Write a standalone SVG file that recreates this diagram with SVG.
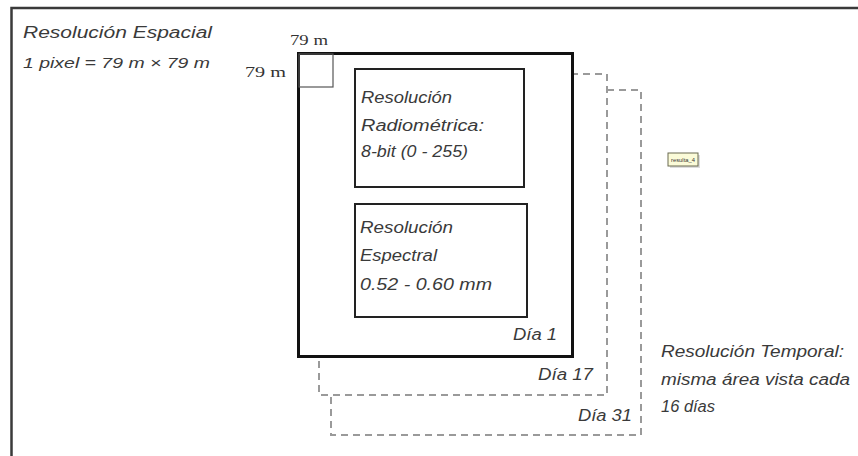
<svg xmlns="http://www.w3.org/2000/svg" width="858" height="456" viewBox="0 0 858 456">
<style>
.t{font-family:"Liberation Sans",Arial,sans-serif;font-style:italic;fill:#3a3a3a;font-size:16px}
.s{font-family:"Liberation Serif","Times New Roman",serif;fill:#333;font-size:14px}
.dash{fill:#fff;stroke:#9a9a9a;stroke-width:2;stroke-dasharray:7 5}
.inner{fill:#fff;stroke:#222;stroke-width:2}
</style>
<rect width="858" height="456" fill="#fff"/>
<rect id="frame" x="11.5" y="8" width="870" height="470" fill="none" stroke="#3a3a3a" stroke-width="2.5"/>
<g id="spatial">
<text class="t" x="23" y="38" textLength="189" lengthAdjust="spacingAndGlyphs">Resolución Espacial</text>
<text class="t" x="23" y="68" font-size="15" style="font-size:15px" textLength="187" lengthAdjust="spacingAndGlyphs">1 pixel = 79 m × 79 m</text>
</g>
<g id="dia31">
<rect class="dash" x="331" y="90" width="310" height="345"/>
<text class="t" x="578" y="421" textLength="54" lengthAdjust="spacingAndGlyphs">Día 31</text>
</g>
<g id="dia17">
<rect class="dash" x="319" y="74" width="288" height="321"/>
<text class="t" x="538" y="380" textLength="55" lengthAdjust="spacingAndGlyphs">Día 17</text>
</g>
<g id="dia1">
<rect x="298.5" y="53.5" width="274" height="303" fill="#fff" stroke="#111" stroke-width="3"/>
<text class="t" x="513" y="340" textLength="44" lengthAdjust="spacingAndGlyphs">Día 1</text>
</g>
<g id="pixel">
<rect x="299" y="54" width="34" height="33" fill="none" stroke="#555" stroke-width="1.2"/>
<text class="s" x="290" y="45" textLength="38" lengthAdjust="spacingAndGlyphs">79 m</text>
<text class="s" x="245" y="77" textLength="41" lengthAdjust="spacingAndGlyphs">79 m</text>
</g>
<g id="radiometrica">
<rect class="inner" x="355" y="69" width="169" height="118"/>
<text class="t" x="361" y="103" textLength="91" lengthAdjust="spacingAndGlyphs">Resolución</text>
<text class="t" x="361" y="131" textLength="123" lengthAdjust="spacingAndGlyphs">Radiométrica:</text>
<text class="t" x="361" y="157" textLength="107" lengthAdjust="spacingAndGlyphs">8-bit (0 - 255)</text>
</g>
<g id="espectral">
<rect class="inner" x="355" y="204" width="172" height="113"/>
<text class="t" x="360" y="233" textLength="93" lengthAdjust="spacingAndGlyphs">Resolución</text>
<text class="t" x="360" y="261" textLength="77" lengthAdjust="spacingAndGlyphs">Espectral</text>
<text class="t" x="360" y="290" textLength="132" lengthAdjust="spacingAndGlyphs">0.52 - 0.60 mm</text>
</g>
<g id="temporal">
<text class="t" x="661" y="357" textLength="183" lengthAdjust="spacingAndGlyphs">Resolución Temporal:</text>
<text class="t" x="661" y="385" textLength="189" lengthAdjust="spacingAndGlyphs">misma área vista cada</text>
<text class="t" x="661" y="412" textLength="54" lengthAdjust="spacingAndGlyphs">16 días</text>
</g>
<g id="label">
<rect x="670" y="155" width="30" height="13" fill="#bbb" opacity="0.5"/>
<rect x="668" y="153" width="30" height="13" fill="#fbfbd8" stroke="#6a6a50" stroke-width="1"/>
<text x="671" y="162" font-family="Liberation Sans,Arial,sans-serif" font-size="5.5" fill="#333" textLength="24" lengthAdjust="spacingAndGlyphs">resulta_4</text>
</g>
<g id="connectors"/>
</svg>
